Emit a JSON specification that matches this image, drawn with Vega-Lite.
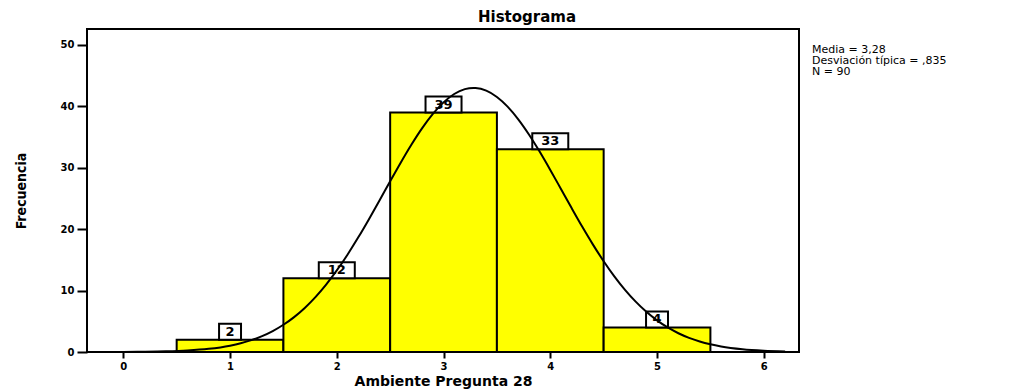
{
  "$schema": "https://vega.github.io/schema/vega-lite/v6.json",
  "autosize": {"type": "none"},
  "width": 712,
  "height": 323,
  "padding": {"left": 87, "top": 29, "right": 217, "bottom": 38},
  "background": "white",
  "config": {
    "view": {"stroke": "black", "strokeWidth": 2},
    "axis": {"grid": false, "domain": false, "tickColor": "black", "tickWidth": 2, "labelColor": "black", "labelFont": "DejaVu Sans", "labelFontWeight": "bold", "labelFontSize": 10, "titleColor": "black"}
  },
  "title": {"text": "Histograma", "font": "DejaVu Sans", "fontSize": 15, "fontWeight": "bold", "color": "black", "anchor": "middle", "dx": 84, "offset": 4},
  "datasets": {
    "bins": [
      {"lo": 0.5, "hi": 1.5, "mid": 1, "count": 2},
      {"lo": 1.5, "hi": 2.5, "mid": 2, "count": 12},
      {"lo": 2.5, "hi": 3.5, "mid": 3, "count": 39},
      {"lo": 3.5, "hi": 4.5, "mid": 4, "count": 33},
      {"lo": 4.5, "hi": 5.5, "mid": 5, "count": 4}
    ],
    "curve": [
      {"x": 0.0, "f": 0.019}, {"x": 0.2, "f": 0.048}, {"x": 0.4, "f": 0.112}, {"x": 0.6, "f": 0.249},
      {"x": 0.8, "f": 0.522}, {"x": 1.0, "f": 1.034}, {"x": 1.1, "f": 1.423}, {"x": 1.2, "f": 1.932},
      {"x": 1.3, "f": 2.585}, {"x": 1.4, "f": 3.409}, {"x": 1.5, "f": 4.432}, {"x": 1.6, "f": 5.681},
      {"x": 1.7, "f": 7.178}, {"x": 1.8, "f": 8.939}, {"x": 1.9, "f": 10.974}, {"x": 2.0, "f": 13.28},
      {"x": 2.1, "f": 15.842}, {"x": 2.2, "f": 18.63}, {"x": 2.3, "f": 21.596}, {"x": 2.4, "f": 24.676},
      {"x": 2.5, "f": 27.797}, {"x": 2.6, "f": 30.864}, {"x": 2.7, "f": 33.783}, {"x": 2.8, "f": 36.451},
      {"x": 2.9, "f": 38.77}, {"x": 3.0, "f": 40.649}, {"x": 3.1, "f": 42.012}, {"x": 3.2, "f": 42.803},
      {"x": 3.28, "f": 43.0}, {"x": 3.3, "f": 42.988}, {"x": 3.4, "f": 42.558}, {"x": 3.5, "f": 41.533},
      {"x": 3.6, "f": 39.956}, {"x": 3.7, "f": 37.891}, {"x": 3.8, "f": 35.42}, {"x": 3.9, "f": 32.639},
      {"x": 4.0, "f": 29.649}, {"x": 4.1, "f": 26.55}, {"x": 4.2, "f": 23.436}, {"x": 4.3, "f": 20.391},
      {"x": 4.4, "f": 17.49}, {"x": 4.5, "f": 14.788}, {"x": 4.6, "f": 12.325}, {"x": 4.7, "f": 10.126},
      {"x": 4.8, "f": 8.201}, {"x": 4.9, "f": 6.548}, {"x": 5.0, "f": 5.153}, {"x": 5.1, "f": 3.997},
      {"x": 5.2, "f": 3.057}, {"x": 5.3, "f": 2.305}, {"x": 5.4, "f": 1.713}, {"x": 5.5, "f": 1.255},
      {"x": 5.6, "f": 0.906}, {"x": 5.8, "f": 0.453}, {"x": 6.0, "f": 0.214}, {"x": 6.2, "f": 0.095}
    ],
    "stats": [
      {"stat": "Media = 3,28"},
      {"stat": "Desviación típica = ,835"},
      {"stat": "N = 90"}
    ]
  },
  "layer": [
    {
      "data": {"name": "bins"},
      "mark": {"type": "bar", "fill": "#FFFF00", "stroke": "black", "strokeWidth": 2},
      "encoding": {
        "x": {"field": "lo", "type": "quantitative", "scale": {"domain": [-0.34, 6.33], "nice": false, "zero": false},
              "axis": {"values": [0, 1, 2, 3, 4, 5, 6], "format": "d", "tickSize": 6, "labelPadding": 3, "title": "Ambiente Pregunta 28", "titleFont": "DejaVu Sans", "titleFontSize": 14, "titleFontWeight": "bold", "titlePadding": 3}},
        "x2": {"field": "hi"},
        "y": {"field": "count", "type": "quantitative", "scale": {"domain": [0, 52.6], "nice": false},
              "axis": {"values": [0, 10, 20, 30, 40, 50], "tickSize": 10, "labelPadding": 3, "title": "Frecuencia", "titleFont": "DejaVu Sans Condensed", "titleFontSize": 14, "titleFontWeight": "bold", "titlePadding": 32}},
        "y2": {"datum": 0}
      }
    },
    {
      "data": {"name": "bins"},
      "transform": [{"filter": "datum.count < 10"}],
      "mark": {"type": "point", "shape": "M-0.61,-0.89L0.61,-0.89L0.61,0L-0.61,0Z", "size": 1296, "filled": true, "fill": "white", "stroke": "black", "strokeWidth": 2, "opacity": 1},
      "encoding": {
        "x": {"field": "mid", "type": "quantitative", "scale": {"domain": [-0.34, 6.33], "nice": false, "zero": false}, "title": "Ambiente Pregunta 28"},
        "y": {"field": "count", "type": "quantitative", "scale": {"domain": [0, 52.6], "nice": false}, "title": "Frecuencia"}
      }
    },
    {
      "data": {"name": "bins"},
      "transform": [{"filter": "datum.count >= 10"}],
      "mark": {"type": "point", "shape": "M-1,-0.89L1,-0.89L1,0L-1,0Z", "size": 1296, "filled": true, "fill": "white", "stroke": "black", "strokeWidth": 2, "opacity": 1},
      "encoding": {
        "x": {"field": "mid", "type": "quantitative", "scale": {"domain": [-0.34, 6.33], "nice": false, "zero": false}, "title": "Ambiente Pregunta 28"},
        "y": {"field": "count", "type": "quantitative", "scale": {"domain": [0, 52.6], "nice": false}, "title": "Frecuencia"}
      }
    },
    {
      "data": {"name": "bins"},
      "mark": {"type": "text", "dy": -8, "baseline": "middle", "align": "center", "font": "DejaVu Sans", "fontWeight": "bold", "fontSize": 13, "color": "black"},
      "encoding": {
        "x": {"field": "mid", "type": "quantitative", "scale": {"domain": [-0.34, 6.33], "nice": false, "zero": false}, "title": "Ambiente Pregunta 28"},
        "y": {"field": "count", "type": "quantitative", "scale": {"domain": [0, 52.6], "nice": false}, "title": "Frecuencia"},
        "text": {"field": "count", "type": "quantitative"}
      }
    },
    {
      "data": {"name": "curve"},
      "mark": {"type": "line", "color": "black", "strokeWidth": 2, "interpolate": "monotone"},
      "encoding": {
        "x": {"field": "x", "type": "quantitative", "scale": {"domain": [-0.34, 6.33], "nice": false, "zero": false}, "title": "Ambiente Pregunta 28"},
        "y": {"field": "f", "type": "quantitative", "scale": {"domain": [0, 52.6], "nice": false}, "title": "Frecuencia"}
      }
    },
    {
      "data": {"name": "stats"},
      "mark": {"type": "point", "opacity": 0},
      "encoding": {
        "color": {"field": "stat", "type": "nominal",
                  "scale": {"domain": ["Media = 3,28", "Desviación típica = ,835", "N = 90"], "range": ["black", "black", "black"]},
                  "legend": {"orient": "right", "offset": 2, "padding": 0, "title": " ", "titleFontSize": 11, "titlePadding": 4,
                             "symbolSize": 0, "symbolOpacity": 0, "symbolStrokeWidth": 0, "labelOffset": 0,
                             "labelFont": "DejaVu Sans", "labelFontSize": 11, "labelColor": "black", "rowPadding": -2, "labelLimit": 300}}
      }
    }
  ]
}
